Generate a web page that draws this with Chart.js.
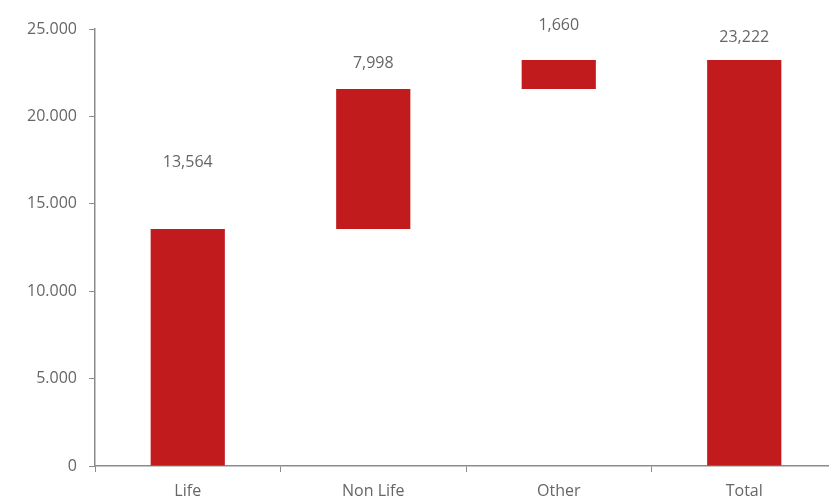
<!DOCTYPE html>
<html>
<head>
<meta charset="utf-8">
<script src="https://cdn.jsdelivr.net/npm/chart.js@4"></script>
<style>
    html, body { margin: 0; padding: 0; background: #fff; overflow: hidden; }
    #wrap { width: 840px; height: 502px; }
</style>
</head>
<body>
<div id="wrap"><canvas id="chart"></canvas></div>
<script>
// Waterfall - contribución por línea de negocio
const categories = ["Life", "Non Life", "Other", "Total"];
const values = [13564, 7998, 1660, 23222];
const isTotal = [false, false, false, true];
const yTicks = [0, 5000, 10000, 15000, 20000, 25000];

// distancia (px) del centro de la etiqueta sobre la barra
const labelOffsets = [66, 26, 35, 23];

const barColor = "#C11B1E";
const textColor = "#666666";
const axisColor = "#8C8C8C";
const fontFamily = "'Open Sans', 'Noto Sans', sans-serif";

// rangos flotantes a partir de los valores
let running = 0;
const ranges = values.map(function (v, i) {
    if (isTotal[i]) return [0, v];
    const r = [running, running + v];
    running += v;
    return r;
});

const valueLabels = {
    id: "valueLabels",
    afterDatasetsDraw(chart) {
        const ctx = chart.ctx;
        const meta = chart.getDatasetMeta(0);
        ctx.save();
        ctx.font = "16px " + fontFamily;
        ctx.fillStyle = textColor;
        ctx.textAlign = "center";
        ctx.textBaseline = "middle";
        meta.data.forEach(function (bar, i) {
            const txt = values[i].toLocaleString("en-US");
            ctx.fillText(txt, bar.x, bar.y - labelOffsets[i]);
        });
        ctx.restore();
    }
};

new Chart(document.getElementById("chart"), {
    type: "bar",
    data: {
        labels: categories,
        datasets: [{
            data: ranges,
            backgroundColor: barColor,
            borderWidth: 0,
            barPercentage: 0.4,
            categoryPercentage: 1.0
        }]
    },
    options: {
        responsive: true,
        maintainAspectRatio: false,
        animation: false,
        layout: { padding: { top: 29, right: 3, left: 0, bottom: 0 } },
        plugins: {
            legend: { display: false },
            tooltip: { enabled: false }
        },
        scales: {
            x: {
                grid: {
                    display: true,
                    drawOnChartArea: false,
                    drawTicks: true,
                    tickLength: 6,
                    tickColor: axisColor,
                    offset: true
                },
                border: { display: true, color: axisColor, width: 1.5 },
                ticks: {
                    color: textColor,
                    font: { family: fontFamily, size: 16 },
                    padding: 10
                },
                afterFit(scale) { scale.height = 36; }
            },
            y: {
                min: 0,
                max: 25000,
                grid: {
                    display: true,
                    drawOnChartArea: false,
                    drawTicks: true,
                    tickLength: 6,
                    tickColor: axisColor
                },
                border: { display: true, color: axisColor, width: 1.5 },
                afterBuildTicks(scale) {
                    scale.ticks = yTicks.map(function (v) { return { value: v }; });
                },
                ticks: {
                    color: textColor,
                    font: { family: fontFamily, size: 16 },
                    padding: 12,
                    callback: function (v) { return Number(v).toLocaleString("de-DE"); }
                },
                afterFit(scale) { scale.width = 95; }
            }
        }
    },
    plugins: [valueLabels]
});
</script>
</body>
</html>
